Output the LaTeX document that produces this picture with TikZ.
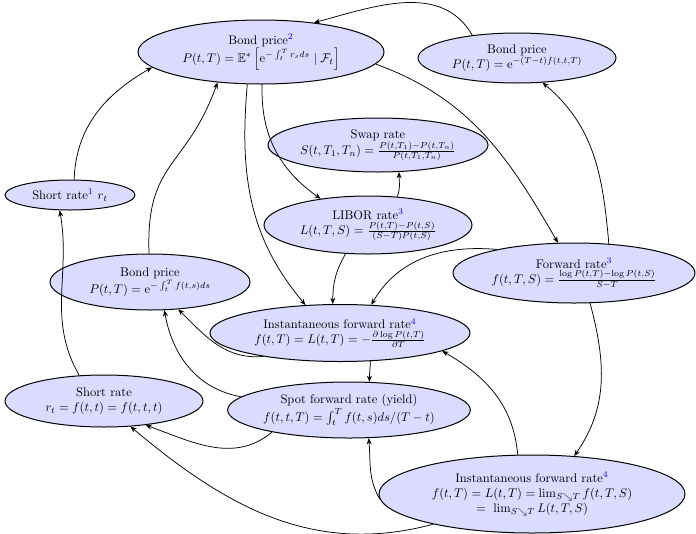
\documentclass[tikz,border=0pt]{standalone}
\usepackage{amsmath,amssymb}
\usetikzlibrary{shapes.geometric,arrows.meta}
\newcommand{\fnum}[1]{\textsuperscript{\color{blue}#1}}
\begin{document}
\begin{tikzpicture}[x=0.8pt,y=0.8pt,
  bub/.style 2 args={ellipse, draw=black, thick, fill=blue!14, align=center,
    inner sep=0pt, minimum width=#1*0.8pt, minimum height=#2*0.8pt, font=\normalsize},
  link/.style={semithick, -{Stealth[length=5pt,width=4pt]}}]
\useasboundingbox (0,0) rectangle (696,-533);

\node[bub={246}{64}] (n1) at (261,-52) {Bond price\fnum{2}\\ $P(t,T)=\mathbb{E}^*\left[\mathrm{e}^{-\int_t^T r_s ds}\mid \mathcal{F}_t\right]$};
\node[bub={198}{50}] (n2) at (517,-58) {Bond price\\ $P(t,T)=\mathrm{e}^{-(T-t)f(t,t,T)}$};
\node[bub={204}{54}] (n3) at (378,-145) {Swap rate\\ $S(t,T_1,T_n)=\frac{P(t,T_1)-P(t,T_n)}{P(t,T_1,T_n)}$};
\node[bub={208}{58}] (n4) at (368,-225) {LIBOR rate\fnum{3}\\ $L(t,T,S)=\frac{P(t,T)-P(t,S)}{(S-T)P(t,S)}$};
\node[bub={130}{30}] (n5) at (70,-195) {Short rate\fnum{1} $r_t$};
\node[bub={242}{60}] (n6) at (574,-273) {Forward rate\fnum{3}\\ $f(t,T,S)=\frac{\log P(t,T)-\log P(t,S)}{S-T}$};
\node[bub={200}{56}] (n7) at (150,-282) {Bond price\\ $P(t,T)=\mathrm{e}^{-\int_t^T f(t,s)ds}$};
\node[bub={260}{57}] (n8) at (340,-333) {Instantaneous forward rate\fnum{4}\\ $f(t,T)=L(t,T)=-\frac{\partial\log P(t,T)}{\partial T}$};
\node[bub={198}{52}] (n9) at (104,-401) {Short rate\\ $r_t=f(t,t)=f(t,t,t)$};
\node[bub={242}{56}] (n10) at (349,-410) {Spot forward rate (yield)\\ $f(t,t,T)=\int_t^T f(t,s)ds/(T-t)$};
\node[bub={306}{78}] (n11) at (532,-494) {Instantaneous forward rate\fnum{4}\\ $f(t,T)=L(t,T)=\lim_{S\searrow T} f(t,T,S)$\\ $=\ \lim_{S\searrow T} L(t,T,S)$};

\draw[link] (n2.153) to[out=120,in=15] (n1.29);
\draw[link] (n5.75) to[out=88,in=210] (n1.188);
\draw[link] (n7.92) to[out=92,in=250,looseness=1.3] (n1.215);
\draw[link] (n1.272) to[out=268,in=145] (n4.151);
\draw[link] (n1.247) to[out=265,in=130] (n8.141);
\draw[link] (n1.354) to[out=-20,in=120] (n6.118);
\draw[link] (n4.44) to[out=70,in=-90] (n3.308);
\draw[link] (n4.232) to[out=240,in=90] (n8.104);
\draw[link] (n6.40) to[out=95,in=-40] (n2.316);
\draw[link] (n6.163) to[out=175,in=60] (n8.42);
\draw[link] (n6.298) to[out=-75,in=55] (n11.42);
\draw[link] (n8.197) to[out=185,in=-45] (n7.316);
\draw[link] (n10.173) to[out=170,in=-80] (n7.297);
\draw[link] (n8.317) to[out=-90,in=90] (n10.54);
\draw[link] (n11.110) to[out=95,in=-30] (n8.350);
\draw[link] (n11.182) to[out=120,in=-85] (n10.305);
\draw[link] (n11.197) to[out=195,in=-40] (n9.316);
\draw[link] (n10.196) to[out=220,in=-20] (n9.330);
\draw[link] (n9.134) to[out=120,in=-80] (n5.236);
\end{tikzpicture}
\end{document}
